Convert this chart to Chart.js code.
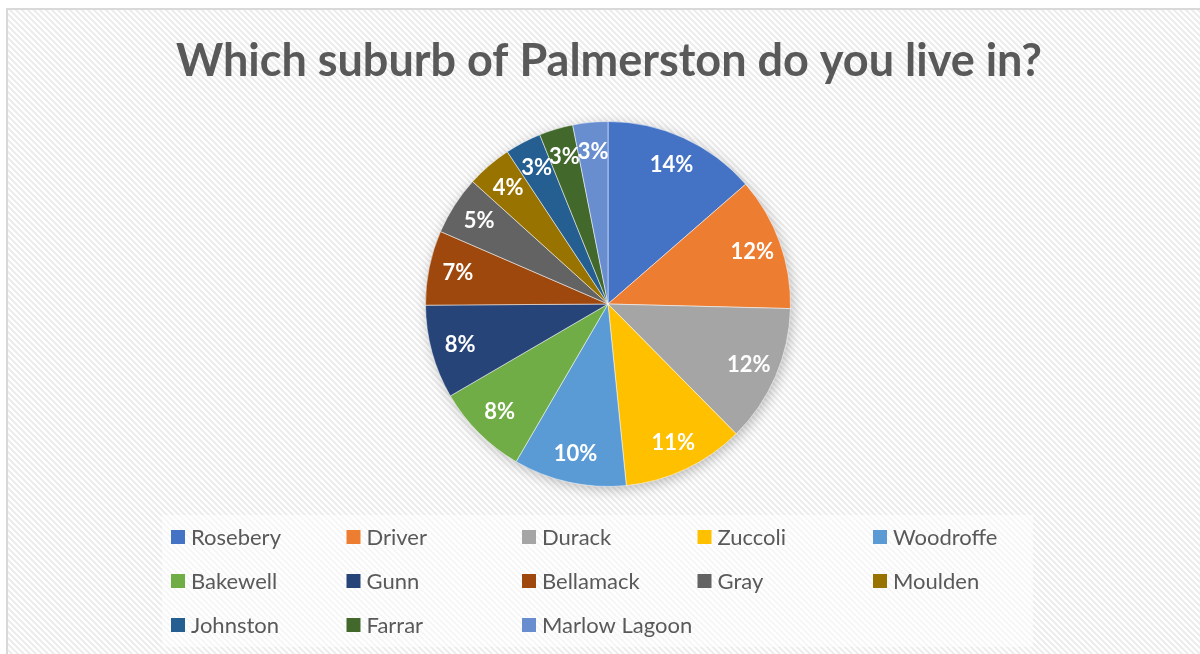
<!DOCTYPE html>
<html>
<head>
<meta charset="utf-8">
<script src="https://cdn.jsdelivr.net/npm/chart.js@4"></script>
<style>
  html, body { margin: 0; padding: 0; background: #fff; }
  #wrap { width: 1200px; height: 654px; position: relative; }
</style>
</head>
<body>
<div id="wrap"><canvas id="pieChart" width="1200" height="654"></canvas></div>
<script>
// suburbs and their share of answers (percent)
const suburbs = ['Rosebery', 'Driver', 'Durack', 'Zuccoli', 'Woodroffe', 'Bakewell', 'Gunn',
    'Bellamack', 'Gray', 'Moulden', 'Johnston', 'Farrar', 'Marlow Lagoon'];
const shares = [13.6, 11.8, 12.2, 10.8, 10.0, 8.2, 8.3, 6.6, 5.2, 4.0, 3.2, 3.0, 3.1];
const sliceColors = ['#4472C4', '#ED7D31', '#A5A5A5', '#FFC000', '#5B9BD5', '#70AD47', '#264478',
    '#9E480E', '#636363', '#997300', '#255E91', '#43682B', '#698ED0'];
const chartTitle = 'Which suburb of Palmerston do you live in?';

const textGrey = '#595959';

// diagonal hatch like the office "light diagonal" fill
function makeHatch() {
    const c = document.createElement('canvas');
    c.width = 6; c.height = 6;
    const g = c.getContext('2d');
    g.fillStyle = '#ffffff';
    g.fillRect(0, 0, 6, 6);
    g.strokeStyle = '#ececec';
    g.lineWidth = 2;
    g.beginPath();
    g.moveTo(-1, -1); g.lineTo(7, 7);
    g.moveTo(-1, 5); g.lineTo(1, 7);
    g.moveTo(5, -1); g.lineTo(7, 1);
    g.stroke();
    return c;
}

const backdrop = {
    id: 'backdrop',
    beforeDraw(chart) {
        const ctx = chart.ctx;
        ctx.save();
        ctx.fillStyle = '#ffffff';
        ctx.fillRect(0, 0, chart.width, chart.height);
        ctx.fillStyle = ctx.createPattern(makeHatch(), 'repeat');
        ctx.fillRect(7, 10, chart.width - 7, chart.height - 10);
        // legend panel is a touch lighter
        ctx.fillStyle = 'rgba(255,255,255,0.55)';
        ctx.fillRect(162, 515, 871, 132);
        // outer frame
        ctx.strokeStyle = '#d9d9d9';
        ctx.lineWidth = 2;
        ctx.beginPath();
        ctx.moveTo(7, chart.height);
        ctx.lineTo(7, 9);
        ctx.lineTo(chart.width, 9);
        ctx.stroke();
        // title
        ctx.fillStyle = textGrey;
        ctx.font = 'bold 45px Lato';
        ctx.textAlign = 'center';
        ctx.textBaseline = 'alphabetic';
        ctx.fillText(chartTitle, 609, 76);
        ctx.restore();
    },
    beforeDatasetsDraw(chart) {
        const ctx = chart.ctx;
        ctx.save();
        ctx.shadowColor = 'rgba(0,0,0,0.28)';
        ctx.shadowBlur = 14;
        ctx.shadowOffsetX = 2;
        ctx.shadowOffsetY = 3;
        const arc = chart.getDatasetMeta(0).data[0];
        ctx.fillStyle = '#ffffff';
        ctx.beginPath();
        ctx.arc(arc.x, arc.y, arc.outerRadius - 1, 0, Math.PI * 2);
        ctx.fill();
        ctx.restore();
    },
    afterDatasetsDraw(chart) {
        const ctx = chart.ctx;
        const meta = chart.getDatasetMeta(0);
        ctx.save();
        ctx.fillStyle = '#ffffff';
        ctx.font = 'bold 22px Lato';
        ctx.textAlign = 'center';
        ctx.textBaseline = 'middle';
        meta.data.forEach((arc, i) => {
            const mid = (arc.startAngle + arc.endAngle) / 2;
            const r = arc.outerRadius * 0.84;
            const x = arc.x + Math.cos(mid) * r;
            const y = arc.y + Math.sin(mid) * r;
            ctx.fillText(Math.round(shares[i]) + '%', x, y);
        });
        ctx.restore();
    },
    afterDraw(chart) {
        // legend, 5 columns x 3 rows
        const ctx = chart.ctx;
        ctx.save();
        ctx.font = '22px Lato';
        ctx.textBaseline = 'middle';
        ctx.textAlign = 'left';
        suburbs.forEach((name, i) => {
            const col = i % 5;
            const row = Math.floor(i / 5);
            const x = 171 + col * 175.5;
            const y = 537 + row * 44;
            ctx.fillStyle = sliceColors[i];
            ctx.fillRect(x, y - 7, 14, 14);
            ctx.fillStyle = textGrey;
            ctx.fillText(name, x + 20, y + 1);
        });
        ctx.restore();
    }
};

new Chart(document.getElementById('pieChart'), {
    type: 'pie',
    data: {
        labels: suburbs,
        datasets: [{
            data: shares,
            backgroundColor: sliceColors,
            borderColor: 'rgba(255,255,255,0.5)',
            borderWidth: 1
        }]
    },
    options: {
        responsive: false,
        animation: false,
        layout: { padding: { top: 121, bottom: 167, left: 425, right: 409 } },
        plugins: {
            legend: { display: false },
            title: { display: false },
            tooltip: { enabled: false }
        }
    },
    plugins: [backdrop]
});
</script>
</body>
</html>
